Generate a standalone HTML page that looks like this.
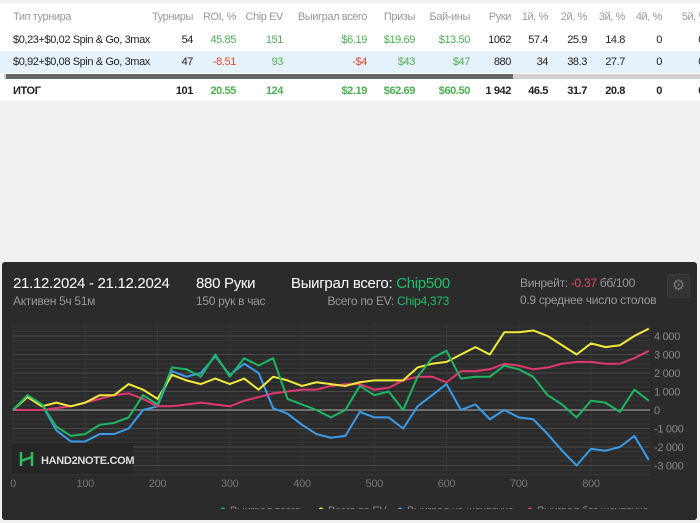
<!DOCTYPE html>
<html><head><meta charset="utf-8">
<style>
body{margin:0;width:700px;height:523px;background:#f0f0f0;font-family:"Liberation Sans","DejaVu Sans",sans-serif;overflow:hidden;position:relative}
.tbl{position:absolute;left:0;top:3px;width:700px;height:98px;background:#fff;font-size:11px;color:#222;letter-spacing:-0.4px}
.tbl div.r{position:absolute;left:0;width:700px;height:22px;line-height:22px}
.c{position:absolute;white-space:nowrap;text-align:right}
.h .c{color:#999}
.g{color:#4caf50}.rd{color:#e0492b}
.tot{font-weight:bold}
.panel{position:absolute;left:2px;top:262px;width:695px;height:258px;background:#2b2b2b;border-radius:3px;overflow:hidden;letter-spacing:-0.3px}
.t{position:absolute;white-space:nowrap}
</style></head><body>
<div class="tbl">
 <div class="r h" style="top:3px">
  <span class="c" style="left:13px;text-align:left">Тип турнира</span>
  <span class="c" style="right:507px">Турниры</span><span class="c" style="right:464px">ROI, %</span>
  <span class="c" style="right:417px">Chip EV</span><span class="c" style="right:333px">Выиграл всего</span>
  <span class="c" style="right:285px">Призы</span><span class="c" style="right:230px">Бай-ины</span>
  <span class="c" style="right:189px">Руки</span><span class="c" style="right:152px">1й, %</span>
  <span class="c" style="right:113px">2й, %</span><span class="c" style="right:75px">3й, %</span>
  <span class="c" style="right:38px">4й, %</span><span class="c" style="right:-8px">5й, %</span>
 </div>
 <div class="r" style="top:26px">
  <span class="c" style="left:13px;text-align:left">$0,23+$0,02 Spin &amp; Go, 3max</span>
  <span class="c" style="right:507px">54</span><span class="c g" style="right:464px">45.85</span>
  <span class="c g" style="right:417px">151</span><span class="c g" style="right:333px">$6.19</span>
  <span class="c g" style="right:285px">$19.69</span><span class="c g" style="right:230px">$13.50</span>
  <span class="c" style="right:189px">1062</span><span class="c" style="right:152px">57.4</span>
  <span class="c" style="right:113px">25.9</span><span class="c" style="right:75px">14.8</span>
  <span class="c" style="right:38px">0</span><span class="c" style="right:-4px">0</span>
 </div>
 <div class="r" style="top:48px;background:#e6f2fb">
  <span class="c" style="left:13px;text-align:left">$0,92+$0,08 Spin &amp; Go, 3max</span>
  <span class="c" style="right:507px">47</span><span class="c rd" style="right:464px">-8.51</span>
  <span class="c g" style="right:417px">93</span><span class="c rd" style="right:333px">-$4</span>
  <span class="c g" style="right:285px">$43</span><span class="c g" style="right:230px">$47</span>
  <span class="c" style="right:189px">880</span><span class="c" style="right:152px">34</span>
  <span class="c" style="right:113px">38.3</span><span class="c" style="right:75px">27.7</span>
  <span class="c" style="right:38px">0</span><span class="c" style="right:-4px">0</span>
 </div>
 <div style="position:absolute;left:4px;top:71px;width:696px;height:5px;background:#d0d0d0"></div>
 <div style="position:absolute;left:6px;top:71px;width:507px;height:5px;background:#666"></div>
 <div class="r tot" style="top:77px">
  <span class="c" style="left:13px;text-align:left">ИТОГ</span>
  <span class="c" style="right:507px">101</span><span class="c g" style="right:464px">20.55</span>
  <span class="c g" style="right:417px">124</span><span class="c g" style="right:333px">$2.19</span>
  <span class="c g" style="right:285px">$62.69</span><span class="c g" style="right:230px">$60.50</span>
  <span class="c" style="right:189px">1 942</span><span class="c" style="right:152px">46.5</span>
  <span class="c" style="right:113px">31.7</span><span class="c" style="right:75px">20.8</span>
  <span class="c" style="right:38px">0</span><span class="c" style="right:-4px">0</span>
 </div>
</div>

<div class="panel">
 <div class="t" style="left:11px;top:13px;font-size:15px;color:#fff">21.12.2024 - 21.12.2024</div>
 <div class="t" style="left:11px;top:32px;font-size:12px;color:#999">Активен 5ч 51м</div>
 <div class="t" style="left:194px;top:13px;font-size:15px;color:#fff">880 Руки</div>
 <div class="t" style="left:194px;top:32px;font-size:12px;color:#999">150 рук в час</div>
 <div class="t" style="left:289px;top:13px;font-size:15px;color:#fff">Выиграл всего: <span style="color:#1fbf6a">Chip500</span></div>
 <div class="t" style="right:248px;top:32px;font-size:12px;color:#999">Всего по EV: <span style="color:#1fbf6a">Chip4,373</span></div>
 <div class="t" style="left:518px;top:14px;font-size:12px;color:#999">Винрейт: <span style="color:#e8456b">-0.37</span> бб/100</div>
 <div class="t" style="left:518px;top:31px;font-size:12px;color:#999">0.9 среднее число столов</div>
 <div style="position:absolute;left:665px;top:12px;width:21px;height:22px;background:#333;border:1px solid #3c3c3c;border-radius:3px;color:#777;font-size:15px;text-align:center;line-height:22px">⚙</div>
 <svg id="chart" width="695" height="258" style="position:absolute;left:-2px;top:0"></svg>
</div>
<script>
const hands=[0,20,40,60,80,100,120,140,160,180,200,220,240,260,280,300,320,340,360,380,400,420,440,460,480,500,520,540,560,580,600,620,640,660,680,700,720,740,760,780,800,820,840,860,880];
const wonTotal=[0,800,300,-900,-1400,-1300,-800,-700,-400,800,300,2300,2200,1800,3000,1800,2800,2400,2800,600,300,0,-400,0,1300,800,1000,0,1800,2800,3200,1700,1800,1800,2400,2200,1800,800,300,-400,500,400,-100,1100,500];
const evTotal=[0,700,200,400,200,400,800,800,1400,1100,600,1900,1600,1400,1700,1400,1700,1100,1800,1600,1300,1500,1400,1300,1500,1600,1600,1600,2300,2500,2600,3000,3400,3000,4200,4200,4300,4000,3500,3000,3600,3400,3500,4000,4400];
const showdown=[0,800,300,-1100,-1700,-1700,-1300,-1300,-1000,0,200,2100,1800,2000,2900,1900,2500,2000,100,-200,-800,-1300,-1500,-1400,-100,-400,-400,-1000,200,800,1400,0,300,-500,0,-400,-500,-1300,-2200,-3000,-2100,-2200,-2000,-1400,-2700];
const nonShowdown=[0,0,0,100,200,400,600,800,900,600,200,200,300,400,300,200,500,700,900,1000,1100,1100,1300,1400,1400,1100,1200,1600,1800,1800,1500,2100,2100,2200,2500,2400,2200,2300,2500,2600,2600,2500,2500,2800,3200];
const xTicks=[0,100,200,300,400,500,600,700,800];
const yTicks=[-3000,-2000,-1000,0,1000,2000,3000,4000];
const legendLabels=["Выиграл всего","Всего по EV","Выиграл на шоудауне","Выиграл без шоудауна"];
const NS="http://www.w3.org/2000/svg";
const svg=document.getElementById('chart');
const X=n=>13+n*0.7225;
const Y=v=>(410-262)-v*0.0185;
function mk(t,a){const e=document.createElementNS(NS,t);for(const k in a)e.setAttribute(k,a[k]);svg.appendChild(e);return e;}
for(let v=-3500;v<=4500;v+=250){if(v%1000===0)continue;
 const l=mk('line',{x1:13,x2:650,y1:Y(v),y2:Y(v),stroke:'#383838','stroke-width':1});
 
 }
xTicks.forEach(t=>{
 const l=mk('line',{x1:X(t),x2:X(t),y1:Y(4700),y2:Y(-3300),stroke:'#363636'});
 
 
 const tx=mk('text',{x:X(t),y:225,fill:'#777','font-size':11,'text-anchor':'middle','font-family':'Liberation Sans, sans-serif'});
 tx.textContent=t;
 
 
});
yTicks.forEach(t=>{
 const l=mk('line',{x1:13,x2:650,y1:Y(t),y2:Y(t),stroke:t===0?'#888':'#4a4a4a','stroke-width':t===0?1.5:1});
 
 
 const tx=mk('text',{x:654,y:Y(t)+4,fill:'#888','font-size':11,'font-family':'Liberation Sans, sans-serif'});
 tx.textContent=t.toLocaleString('ru-RU').replace(/\u00a0/g,' ');
 
 
});
const series=[[showdown,'#3b9be8','showdown-line'],[nonShowdown,'#e0386e','non-showdown-line'],[evTotal,'#f2ea3a','ev-line'],[wonTotal,'#1eb563','won-total-line']];
series.forEach(([d,c,nm])=>{
 const p=mk('polyline',{points:d.map((v,i)=>X(hands[i])+','+Y(v)).join(' '),fill:'none',stroke:c,'stroke-width':2,'stroke-linejoin':'round'});
 
 
});
const lg=mk('rect',{x:12,y:181,width:121,height:31,fill:'#262626'});


mk('path',{d:'M21 190v14M32 190v14M21 199l11-4',stroke:'#2ebd5a','stroke-width':2.5,fill:'none'});
const lt=mk('text',{x:41,y:202,fill:'#ddd','font-size':11,'font-weight':'bold','font-family':'Liberation Sans, sans-serif'});
lt.textContent='HAND2NOTE.COM';


const lcol=['#1eb563','#f2ea3a','#3b9be8','#e0386e'];const lx=[223,321,400,530];
legendLabels.forEach((s,i)=>{
 const c=mk('circle',{cx:lx[i],cy:248,r:2.5,fill:lcol[i]});
 
 
 const t=mk('text',{x:lx[i]+7,y:252,fill:'#888','font-size':11,'font-family':'Liberation Sans, sans-serif'});
 t.textContent=s;
 
 
});
const cover=mk('rect',{x:0,y:247,width:695,height:11,fill:'#2b2b2b'});


</script>
</body></html>
